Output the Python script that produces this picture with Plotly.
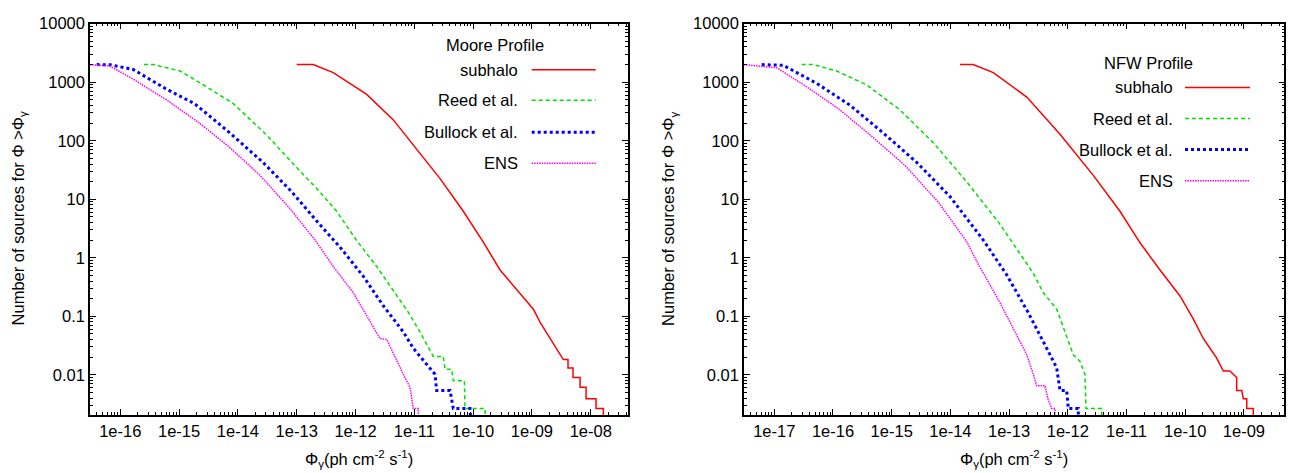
import plotly.graph_objects as go

W, H = 1291, 473

# ---------------- data ----------------
# Moore profile (left panel)
moore_subhalo_x = [1.0e-13, 1.91e-13, 4.19e-13, 1.55e-12, 4.40e-12, 1.10e-11, 2.74e-11, 6.81e-11,
                   1.49e-10, 2.87e-10, 5.52e-10, 1.06e-9, 1.37e-9, 2.03e-9, 2.64e-9, 3.42e-9,
                   4.11e-9, 4.11e-9, 5.0e-9, 5.0e-9, 6.59e-9, 6.59e-9, 8.34e-9, 8.34e-9,
                   1.23e-8, 1.23e-8, 1.64e-8, 1.64e-8]
moore_subhalo_y = [2000, 2000, 1459, 618, 227, 71.6, 22.5, 6.22,
                   1.85, 0.618, 0.286, 0.132, 0.0794, 0.0417, 0.0284, 0.0182,
                   0.0182, 0.0131, 0.0131, 0.00895, 0.00895, 0.0061, 0.0061, 0.00389,
                   0.00389, 0.00265, 0.00265, 0.001]

moore_reed_x = [2.53e-16, 3.64e-16, 1.04e-15, 2.75e-15, 8.35e-15, 3.09e-14, 8.75e-14, 2.19e-13,
                4.79e-13, 1.05e-12, 2.30e-12, 4.40e-12, 7.9e-12, 1.25e-11, 2.10e-11, 3.11e-11,
                3.33e-11, 4.33e-11, 4.6e-11, 7.1e-11, 7.28e-11, 1.60e-10, 1.60e-10]
moore_reed_y = [2000, 2000, 1556, 870, 430, 125, 40, 15.3,
                6.22, 1.96, 0.705, 0.269, 0.117, 0.054, 0.0206, 0.0206,
                0.0124, 0.0124, 0.0079, 0.0079, 0.00265, 0.00265, 0.001]

moore_bullock_x = [3.97e-17, 6.7e-17, 1.66e-16, 5.75e-16, 1.86e-15, 7.35e-15, 2.67e-14, 8.17e-14,
                   2.19e-13, 5.45e-13, 1.36e-12, 2.97e-12, 6.5e-12, 9.6e-12, 1.63e-11, 2.25e-11,
                   2.40e-11, 4.05e-11, 4.6e-11, 8.85e-11, 9.46e-11]
moore_bullock_y = [2000, 1990, 1650, 787, 426, 135.5, 42.7, 13.5,
                   4.24, 1.52, 0.48, 0.151, 0.054, 0.0284, 0.015, 0.0102,
                   0.00536, 0.00536, 0.00265, 0.00265, 0.001]

moore_ens_x = [3.0e-17, 6.68e-17, 1.66e-16, 3.2e-16, 6.15e-16, 2.27e-15, 6.79e-15, 2.38e-14,
               7.69e-14, 2.05e-13, 4.19e-13, 9.18e-13, 1.77e-12, 2.61e-12, 3.40e-12, 5.02e-12,
               6.50e-12, 8.45e-12, 9.6e-12, 1.17e-11, 1.2e-11]
moore_ens_y = [2000, 1888, 1127, 758, 497, 197, 81.3, 25.6,
               6.9, 2.01, 0.705, 0.252, 0.0794, 0.0417, 0.040, 0.0170,
               0.0102, 0.0061, 0.00265, 0.00265, 0.001]

# NFW profile (right panel)
nfw_subhalo_x = [1.46e-14, 2.45e-14, 5.38e-14, 2.0e-13, 7.36e-13, 2.72e-12, 7.74e-12, 1.70e-11,
                 3.72e-11, 8.15e-11, 1.37e-10, 2.03e-10, 2.64e-10, 3.44e-10, 4.46e-10, 5.77e-10,
                 7.53e-10, 7.53e-10, 9.18e-10, 9.78e-10, 1.117e-9, 1.117e-9, 1.445e-9, 1.445e-9]
nfw_subhalo_y = [2000, 2000, 1459, 557, 129, 25.6, 6.22, 1.80,
                 0.618, 0.222, 0.0902, 0.0417, 0.0284, 0.0193, 0.0116, 0.0116,
                 0.00895, 0.00536, 0.00536, 0.00389, 0.00389, 0.00265, 0.00265, 0.001]

nfw_reed_x = [2.93e-17, 4.61e-17, 1.156e-16, 3.75e-16, 1.38e-15, 5.12e-15, 1.90e-14, 7.0e-14,
              1.18e-13, 2.58e-13, 3.83e-13, 6.47e-13, 1.24e-12, 1.61e-12, 1.96e-12, 2.04e-12,
              3.78e-12, 3.78e-12]
nfw_reed_y = [2000, 2000, 1556, 901, 337, 92.3, 19.8, 3.73,
              1.73, 0.545, 0.252, 0.132, 0.022, 0.017, 0.0102, 0.00265,
              0.00265, 0.001]

nfw_bullock_x = [6.1e-18, 1.42e-17, 5.33e-17, 1.95e-16, 7.19e-16, 2.67e-15, 9.84e-15, 3.63e-14,
                 9.1e-14, 2.10e-13, 4.37e-13, 6.47e-13, 7.36e-13, 9.57e-13, 1.02e-12, 1.51e-12,
                 1.51e-12]
nfw_bullock_y = [2000, 1950, 950, 404, 135.5, 42.7, 11.1, 2.01,
                 0.509, 0.117, 0.0284, 0.0131, 0.00536, 0.00536, 0.00265, 0.00265,
                 0.001]

nfw_ens_x = [3.0e-18, 1.1e-17, 3.33e-17, 1.23e-16, 4.56e-16, 1.69e-15, 6.15e-15, 1.90e-14,
             3.19e-14, 7.0e-14, 1.18e-13, 2.0e-13, 2.58e-13, 2.95e-13, 4.09e-13, 4.66e-13,
             5.32e-13, 6.05e-13, 6.05e-13]
nfw_ens_y = [2000, 1766, 873, 355, 119.4, 37.6, 9.06, 1.87,
             0.686, 0.171, 0.0614, 0.022, 0.0102, 0.0065, 0.0065, 0.00365,
             0.00265, 0.00265, 0.001]

series_names = ["subhalo", "Reed et al.", "Bullock et al.", "ENS"]
panel_titles = ["Moore Profile", "NFW Profile"]

left_xticks = [1e-16, 1e-15, 1e-14, 1e-13, 1e-12, 1e-11, 1e-10, 1e-9, 1e-8]
left_xticktext = ["1e-16", "1e-15", "1e-14", "1e-13", "1e-12", "1e-11", "1e-10", "1e-09", "1e-08"]
right_xticks = [1e-17, 1e-16, 1e-15, 1e-14, 1e-13, 1e-12, 1e-11, 1e-10, 1e-9]
right_xticktext = ["1e-17", "1e-16", "1e-15", "1e-14", "1e-13", "1e-12", "1e-11", "1e-10", "1e-09"]
yticks = [0.01, 0.1, 1, 10, 100, 1000, 10000]
yticktext = ["0.01", "0.1", "1", "10", "100", "1000", "10000"]

# ---------------- styles ----------------
styles = [
    dict(color="#ff0000", width=1.5, dash="solid"),
    dict(color="#00e000", width=1.5, dash="4px,3px"),
    dict(color="#0000ff", width=3, dash="3px,3px"),
    dict(color="#ff00ff", width=1.5, dash="1.5px,1px"),
]

FONT = "Liberation Sans, Arial, Helvetica, sans-serif"
FS = 16.5

def px_x(p):
    return p / W

def px_y(p):
    return 1 - p / H

fig = go.Figure()

left_data = [(moore_subhalo_x, moore_subhalo_y), (moore_reed_x, moore_reed_y),
             (moore_bullock_x, moore_bullock_y), (moore_ens_x, moore_ens_y)]
right_data = [(nfw_subhalo_x, nfw_subhalo_y), (nfw_reed_x, nfw_reed_y),
              (nfw_bullock_x, nfw_bullock_y), (nfw_ens_x, nfw_ens_y)]

for (xs, ys), st, nm in zip(left_data, styles, series_names):
    fig.add_trace(go.Scatter(x=xs, y=ys, mode="lines", name=nm, line=st,
                             xaxis="x", yaxis="y", showlegend=False))
for (xs, ys), st, nm in zip(right_data, styles, series_names):
    fig.add_trace(go.Scatter(x=xs, y=ys, mode="lines", name=nm, line=st,
                             xaxis="x2", yaxis="y2", showlegend=False))

ydom = [px_y(414), px_y(15)]
common_axis = dict(
    type="log", showline=True, linecolor="black", linewidth=1.5, mirror="allticks",
    ticks="inside", ticklen=6, tickwidth=1, tickcolor="black", showgrid=False,
    zeroline=False, tickfont=dict(family=FONT, size=FS, color="black"),
    minor=dict(ticks="inside", ticklen=3, tickwidth=1, tickcolor="black", dtick="D1", showgrid=False),
)

fig.update_layout(
    width=W, height=H,
    margin=dict(l=0, r=0, t=0, b=0),
    paper_bgcolor="white", plot_bgcolor="white",
    font=dict(family=FONT, size=FS, color="black"),
    showlegend=False,
    xaxis=dict(common_axis, domain=[px_x(90), px_x(628)], range=[-16.515, -7.366],
               tickmode="array", tickvals=left_xticks, ticktext=left_xticktext, anchor="y"),
    yaxis=dict(common_axis, domain=ydom, range=[-2.69, 4.0],
               tickmode="array", tickvals=yticks, ticktext=yticktext, anchor="x"),
    xaxis2=dict(common_axis, domain=[px_x(744), px_x(1284.3)], range=[-17.516, -8.312],
                tickmode="array", tickvals=right_xticks, ticktext=right_xticktext, anchor="y2"),
    yaxis2=dict(common_axis, domain=ydom, range=[-2.69, 4.0],
                tickmode="array", tickvals=yticks, ticktext=yticktext, anchor="x2"),
)

annotations = []
shapes = []

# axis titles
ytitle = "Number of sources for \u03a6 >\u03a6<sub>\u03b3</sub>"
xtitle = "\u03a6<sub>\u03b3</sub>(ph cm<sup>-2</sup> s<sup>-1</sup>)"
for xc in (18.5, 669):
    annotations.append(dict(text=ytitle, x=px_x(xc), y=px_y(214), xref="paper", yref="paper",
                            textangle=-90, showarrow=False, xanchor="center", yanchor="middle",
                            font=dict(family=FONT, size=FS, color="black")))
for xc in (359, 1014):
    annotations.append(dict(text=xtitle, x=px_x(xc), y=px_y(459), xref="paper", yref="paper",
                            showarrow=False, xanchor="center", yanchor="middle",
                            font=dict(family=FONT, size=FS, color="black")))

# legends (key text on the left, sample line on the right)
legend_specs = [
    dict(title=panel_titles[0], title_xy=(495, 37), text_right=520, rows=[62, 93, 125.7, 157.3],
         line_x=(531.7, 595.7)),
    dict(title=panel_titles[1], title_xy=(1148.7, 55), text_right=1175, rows=[80, 111.7, 143.3, 175],
         line_x=(1185, 1250)),
]
for spec in legend_specs:
    tx, ty = spec["title_xy"]
    annotations.append(dict(text=spec["title"], x=px_x(tx), y=px_y(ty), xref="paper", yref="paper",
                            showarrow=False, xanchor="center", yanchor="middle",
                            font=dict(family=FONT, size=FS, color="black")))
    for row_y, nm, st in zip(spec["rows"], series_names, styles):
        annotations.append(dict(text=nm, x=px_x(spec["text_right"]), y=px_y(row_y),
                                xref="paper", yref="paper", showarrow=False,
                                xanchor="right", yanchor="middle",
                                font=dict(family=FONT, size=FS, color="black")))
        x0, x1 = spec["line_x"]
        shapes.append(dict(type="line", xref="paper", yref="paper",
                           x0=px_x(x0), x1=px_x(x1), y0=px_y(row_y), y1=px_y(row_y),
                           line=dict(color=st["color"], width=st["width"], dash=st["dash"])))

fig.update_layout(annotations=annotations, shapes=shapes)

fig.write_html("out.html",
               config={"displayModeBar": False},
               post_script="document.body.style.margin='0';document.body.style.overflow='hidden';")
